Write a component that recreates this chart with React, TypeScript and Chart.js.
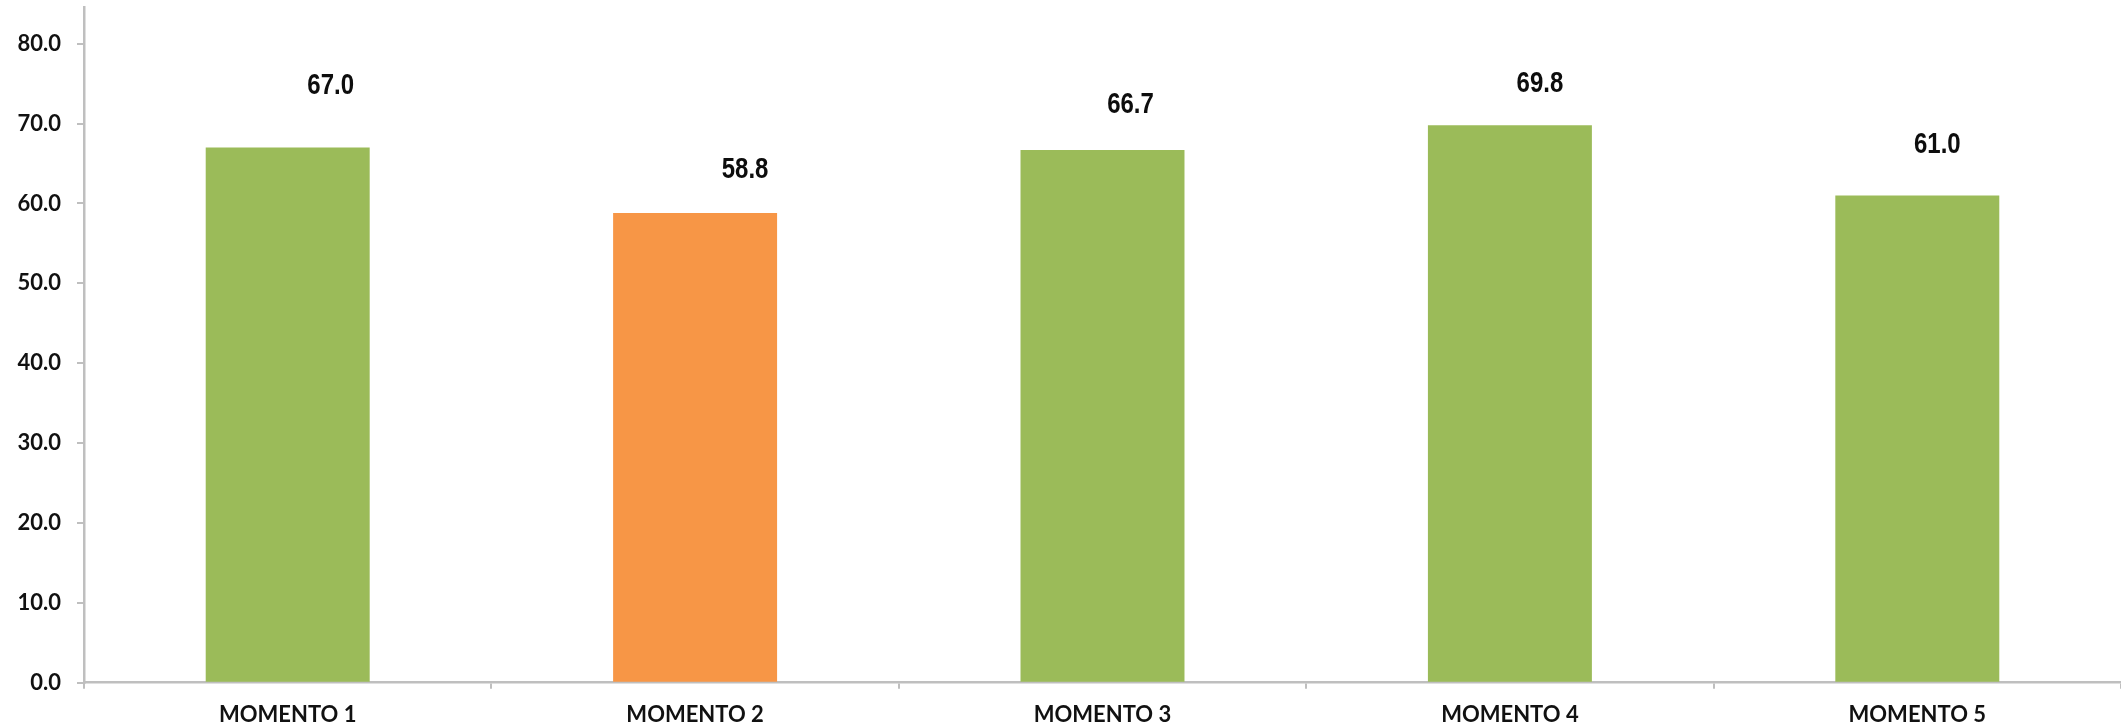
import React, { useEffect, useRef } from "react";
import { Chart, registerables } from "chart.js";

Chart.register(...registerables);

const categories = ["MOMENTO 1", "MOMENTO 2", "MOMENTO 3", "MOMENTO 4", "MOMENTO 5"];
const values = [67.0, 58.8, 66.7, 69.8, 61.0];
const yTickValues = [0, 10, 20, 30, 40, 50, 60, 70, 80];
const barColors = ["#9BBB59", "#F79646", "#9BBB59", "#9BBB59", "#9BBB59"];

const valueLabelPlugin = {
  id: "valueLabels",
  afterDatasetsDraw(chart: any, _args: any, opts: any) {
    const { ctx } = chart;
    const meta = chart.getDatasetMeta(0);
    meta.data.forEach((bar: any, i: number) => {
      const v = chart.data.datasets[0].data[i] as number;
      const off = opts.offsets[i] || [0, 50];
      ctx.save();
      ctx.font = opts.font;
      ctx.fillStyle = opts.color;
      ctx.textAlign = "center";
      ctx.textBaseline = "middle";
      ctx.translate(bar.x + off[0], bar.y - off[1]);
      ctx.scale(opts.squeeze, 1);
      ctx.fillText(v.toFixed(1), 0, 0);
      ctx.restore();
    });
  },
};

export default function App() {
  const canvasRef = useRef<HTMLCanvasElement | null>(null);

  useEffect(() => {
    document.body.style.margin = "0";
    const canvas = canvasRef.current;
    if (!canvas) return;
    const axisColor = "#BFBFBF";
    const textColor = "#111111";
    const chart = new Chart(canvas, {
      type: "bar",
      data: {
        labels: categories,
        datasets: [
          {
            data: values,
            backgroundColor: barColors,
            borderWidth: 0,
            categoryPercentage: 1,
            barPercentage: 0.4025,
          },
        ],
      },
      plugins: [valueLabelPlugin],
      options: {
        responsive: false,
        animation: false,
        devicePixelRatio: 1,
        layout: { padding: { top: 7, right: 0, left: 0, bottom: 0 } },
        plugins: {
          legend: { display: false },
          tooltip: { enabled: false },
          valueLabels: {
            font: "bold 30px 'Liberation Sans', Arial, sans-serif",
            squeeze: 0.8,
            color: "#0d0d0d",
            offsets: [
              [43, 62],
              [50, 43],
              [28, 45.5],
              [30, 41.5],
              [20, 50.5],
            ],
          },
        } as any,
        scales: {
          x: {
            offset: true,
            grid: {
              offset: true,
              drawOnChartArea: false,
              drawTicks: true,
              tickLength: 6,
              color: axisColor,
              lineWidth: 2,
            },
            border: { display: true, color: axisColor, width: 2.5 },
            ticks: {
              color: textColor,
              padding: 13,
              font: { family: "Lato, 'Open Sans', sans-serif", size: 22, weight: "bold" },
              maxRotation: 0,
              autoSkip: false,
            },
            afterFit(scale: any) {
              scale.height = 44.3;
              scale.paddingLeft = 0;
              scale.paddingRight = 0;
            },
          },
          y: {
            min: 0,
            max: 84.6,
            afterBuildTicks(scale: any) {
              scale.ticks = yTickValues.map((v) => ({ value: v }));
            },
            grid: {
              drawOnChartArea: false,
              drawTicks: true,
              tickLength: 7,
              color: axisColor,
              lineWidth: 2,
            },
            border: { display: true, color: axisColor, width: 2.5 },
            ticks: {
              color: textColor,
              padding: 16,
              font: { family: "Lato, 'Open Sans', sans-serif", size: 22, weight: "bold" },
              callback: (v: any) => Number(v).toFixed(1),
            },
            afterFit(scale: any) {
              scale.width = 84;
              scale.paddingTop = 0;
              scale.paddingBottom = 0;
            },
          },
        },
      } as any,
    });
    return () => chart.destroy();
  }, []);

  return (
    <canvas
      ref={canvasRef}
      width={2121}
      height={727}
      style={{ display: "block", width: "2121px", height: "727px" }}
    />
  );
}
